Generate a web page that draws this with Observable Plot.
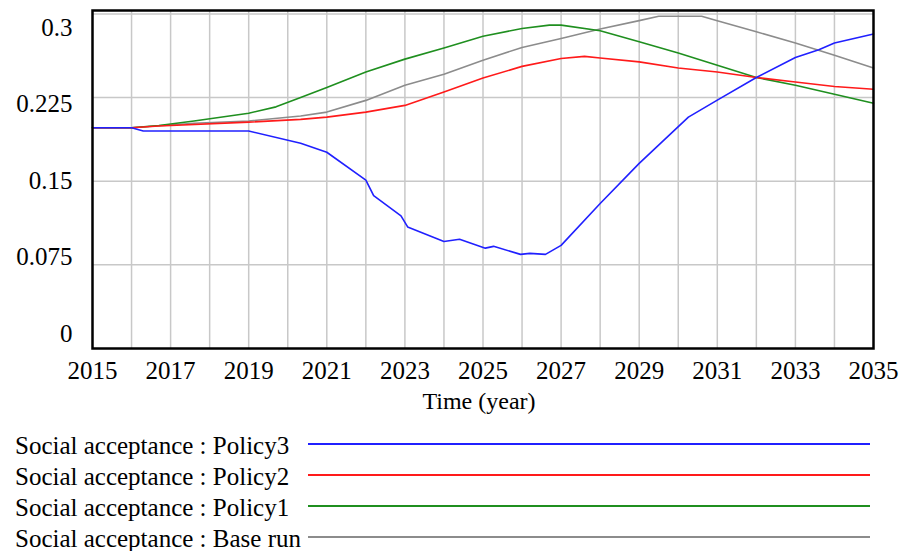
<!DOCTYPE html>
<html>
<head>
<meta charset="utf-8">
<script src="https://cdn.jsdelivr.net/npm/d3@7"></script>
<script src="https://cdn.jsdelivr.net/npm/@observablehq/plot@0.6"></script>
<style>
  body { margin: 0; background: #fff; font-family: "Liberation Serif", "Times New Roman", serif; overflow: hidden; }
  #legend { padding-top: 10px; }
  .row { display: flex; align-items: center; height: 31px; font-size: 25px; line-height: 28px; color: #000; }
  .row .lab { width: 308px; padding-left: 15px; box-sizing: border-box; white-space: nowrap; }
  .row .ln { width: 562px; height: 0; border-top-style: solid; border-top-width: 2px; margin-top: -4px; }
</style>
</head>
<body>
<div id="chart"></div>
<div id="legend"></div>
<script>
// ---- data ----
const policy3Years = [2015, 2016, 2016.3, 2019, 2020.33, 2021, 2022, 2022.2, 2022.9, 2023.07, 2024, 2024.4, 2025.06, 2025.27, 2025.96, 2026.2, 2026.6, 2027, 2028, 2029, 2030.26, 2031, 2032, 2033, 2033.6, 2034, 2035];
const policy3 = [0.198, 0.198, 0.195, 0.195, 0.184, 0.176, 0.151, 0.137, 0.119, 0.109, 0.096, 0.098, 0.090, 0.0916, 0.0844, 0.0853, 0.0844, 0.0925, 0.130, 0.166, 0.2075, 0.2227, 0.243, 0.261, 0.268, 0.274, 0.282];

const policy2Years = [2015, 2016, 2016.7, 2019, 2020.33, 2021, 2022, 2023, 2024, 2025, 2026, 2027, 2027.6, 2028, 2029, 2030, 2031, 2032, 2033, 2034, 2035];
const policy2 = [0.198, 0.198, 0.1995, 0.203, 0.2055, 0.2075, 0.212, 0.218, 0.230, 0.2425, 0.253, 0.260, 0.262, 0.2605, 0.257, 0.2515, 0.248, 0.243, 0.239, 0.235, 0.2325];

const policy1Years = [2015, 2016, 2016.7, 2017.6, 2019, 2019.7, 2020.33, 2021, 2022, 2023, 2024, 2025, 2026, 2026.7, 2027, 2028, 2029, 2030, 2031, 2032, 2033, 2034, 2035];
const policy1 = [0.198, 0.198, 0.200, 0.204, 0.211, 0.2167, 0.225, 0.234, 0.248, 0.2595, 0.2695, 0.280, 0.287, 0.290, 0.290, 0.285, 0.275, 0.265, 0.254, 0.243, 0.236, 0.228, 0.220];

const baseYears = [2015, 2016, 2017.6, 2019, 2020.33, 2021, 2022, 2023, 2024, 2025, 2026, 2027, 2028, 2029, 2029.5, 2030.6, 2031, 2032, 2033, 2034, 2035];
const baseRun = [0.198, 0.198, 0.202, 0.204, 0.2085, 0.212, 0.2225, 0.236, 0.246, 0.2585, 0.270, 0.278, 0.2865, 0.294, 0.298, 0.298, 0.294, 0.284, 0.274, 0.263, 0.2515];

const seriesNames = ["Social acceptance : Policy3", "Social acceptance : Policy2", "Social acceptance : Policy1", "Social acceptance : Base run"];
const seriesColors = ["#2020ff", "#ff1a1a", "#1f8f1f", "#8c8c8c"];
const xTickLabels = [2015, 2017, 2019, 2021, 2023, 2025, 2027, 2029, 2031, 2033, 2035];
const yTickLabels = [0, 0.075, 0.15, 0.225, 0.3];
const gridYears = d3.range(2016, 2035);
const axisTitle = "Time (year)";

// ---- build ----
const toRows = (xs, ys) => xs.map((x, i) => ({x, y: ys[i]}));
const series = [
  toRows(policy3Years, policy3),
  toRows(policy2Years, policy2),
  toRows(policy1Years, policy1),
  toRows(baseYears, baseRun)
];
const drawOrder = [3, 2, 1, 0];

const yAxes = yTickLabels.map(v => Plot.axisY({
  ticks: [v], tickSize: 0, tickPadding: 20, label: null,
  tickFormat: d => String(d), fontSize: 25, fill: "#000",
  dy: -15 + (v / 0.075) * 7.3
}));

const chart = Plot.plot({
  width: 904,
  height: 420,
  marginLeft: 92,
  marginRight: 31,
  marginTop: 10,
  marginBottom: 72,
  style: {fontFamily: "Liberation Serif, Times New Roman, serif", fontSize: "25px", color: "#000", background: "#fff"},
  x: {domain: [2015, 2035]},
  y: {domain: [0, 0.3031]},
  marks: [
    Plot.ruleX(gridYears, {stroke: "#c8c8c8", strokeWidth: 1.5}),
    Plot.ruleY(yTickLabels.filter(v => v > 0), {stroke: "#c8c8c8", strokeWidth: 1.5}),
    ...drawOrder.map(i => Plot.line(series[i], {x: "x", y: "y", stroke: seriesColors[i], strokeWidth: 1.6})),
    Plot.frame({stroke: "#000", strokeWidth: 2.5}),
    Plot.axisX({ticks: xTickLabels, tickSize: 0, tickPadding: 13, label: null, tickFormat: d => String(d), fontSize: 25, fill: "#000"}),
    ...yAxes,
    Plot.text([axisTitle], {frameAnchor: "bottom", dy: 60, dx: -4, fontSize: 24, fill: "#000", text: d => d})
  ]
});
document.getElementById("chart").appendChild(chart);

const legend = document.getElementById("legend");
seriesNames.forEach((name, i) => {
  const row = document.createElement("div");
  row.className = "row";
  const lab = document.createElement("span");
  lab.className = "lab";
  lab.textContent = name;
  const ln = document.createElement("div");
  ln.className = "ln";
  ln.style.borderTopColor = seriesColors[i];
  row.appendChild(lab);
  row.appendChild(ln);
  legend.appendChild(row);
});
</script>
</body>
</html>
